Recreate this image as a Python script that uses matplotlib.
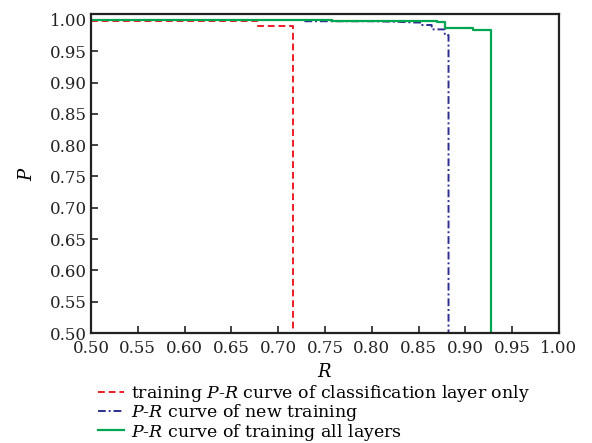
import matplotlib
matplotlib.use("Agg")
import matplotlib.pyplot as plt

# Data
red_R = [0.500, 0.678, 0.678, 0.716, 0.716]
red_P = [0.999, 0.999, 0.991, 0.991, 0.500]

blue_R = [0.728, 0.800, 0.830, 0.845, 0.853, 0.853, 0.864, 0.864, 0.878, 0.878, 0.882, 0.882]
blue_P = [0.998, 0.998, 0.997, 0.996, 0.996, 0.992, 0.992, 0.985, 0.985, 0.976, 0.976, 0.500]

green_R = [0.500, 0.758, 0.758, 0.870, 0.870, 0.878, 0.878, 0.908, 0.908, 0.927, 0.927]
green_P = [1.000, 1.000, 0.998, 0.998, 0.996, 0.996, 0.988, 0.988, 0.984, 0.984, 0.500]

xticks = [0.50, 0.55, 0.60, 0.65, 0.70, 0.75, 0.80, 0.85, 0.90, 0.95, 1.00]
yticks = [0.50, 0.55, 0.60, 0.65, 0.70, 0.75, 0.80, 0.85, 0.90, 0.95, 1.00]

labels = ["training $P$-$R$ curve of classification layer only",
          "$P$-$R$ curve of new training",
          "$P$-$R$ curve of training all layers"]

plt.rcParams['font.family'] = ['DejaVu Serif']
plt.rcParams['mathtext.fontset'] = 'dejavuserif'

fig = plt.figure(figsize=(5.92, 4.43), dpi=100)
ax = fig.add_axes([0.1537, 0.2483, 0.7905, 0.7190])

l1, = ax.plot(red_R, red_P, color='#ee1c25', linestyle=(0, (3.5, 2)), linewidth=1.4)
l2, = ax.plot(blue_R, blue_P, color='#2b2f8f', linestyle=(0, (4, 1.5, 1, 1.5)), linewidth=1.4)
l3, = ax.plot(green_R, green_P, color='#00a650', linestyle='-', linewidth=1.6)

ax.set_xlim(0.5, 1.0)
ax.set_ylim(0.5, 1.0088)
ax.set_xticks(xticks)
ax.set_yticks(yticks)
ax.set_xticklabels([f"{v:.2f}" for v in xticks])
ax.set_yticklabels([f"{v:.2f}" for v in yticks])
ax.tick_params(direction='in', length=5, width=1.2, labelsize=12, colors='#222222',
               top=False, right=False)
ax.tick_params(axis='x', pad=5)
ax.tick_params(axis='y', pad=3)
for s in ax.spines.values():
    s.set_linewidth(1.6)
    s.set_color('#222222')

ax.set_xlabel('$R$', fontsize=13, labelpad=4)
ax.set_ylabel('$P$', fontsize=13, labelpad=10)

fig.legend([l1, l2, l3], labels, loc='upper left', bbox_to_anchor=(0.151, 0.155),
           frameon=False, fontsize=12.5, handlelength=1.5, handletextpad=0.4,
           labelspacing=-0.1, borderpad=0)

fig.savefig('out.png', dpi=100)
